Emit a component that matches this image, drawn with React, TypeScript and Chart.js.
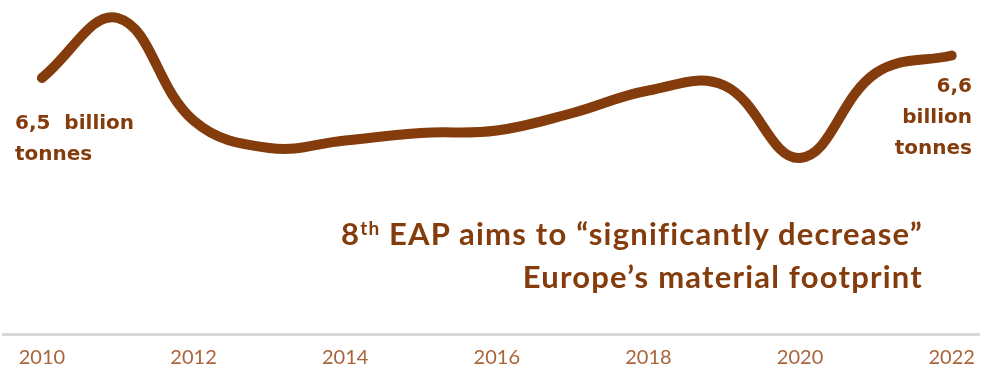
import React, { useEffect, useRef } from "react";
import { Chart, registerables } from "chart.js";

Chart.register(...registerables);

const years = [2010, 2011, 2012, 2013, 2014, 2015, 2016, 2017, 2018, 2019, 2020, 2021, 2022];
const footprint = [6.5, 6.74, 6.33, 6.22, 6.25, 6.28, 6.29, 6.36, 6.45, 6.47, 6.18, 6.52, 6.59];
const tickYears = [2010, 2012, 2014, 2016, 2018, 2020, 2022];

const BROWN = "#843C0C";
const TICK = "#A9643A";

export default function App() {
  const ref = useRef<HTMLCanvasElement | null>(null);

  useEffect(() => {
    if (!ref.current) return;
    const chart = new Chart(ref.current, {
      type: "line",
      data: {
        datasets: [
          {
            data: years.map((y, i) => ({ x: y, y: footprint[i] })),
            borderColor: BROWN,
            borderWidth: 10,
            borderCapStyle: "round",
            borderJoinStyle: "round",
            pointRadius: 0,
            tension: 0.4,
            fill: false,
          },
        ],
      },
      options: {
        animation: false,
        responsive: true,
        maintainAspectRatio: false,
        layout: { padding: { left: 3, right: 4, top: 0, bottom: 0 } },
        plugins: { legend: { display: false }, tooltip: { enabled: false } },
        scales: {
          x: {
            type: "linear",
            min: 2009.487,
            max: 2022.368,
            afterBuildTicks: (axis: any) => {
              axis.ticks = tickYears.map((v) => ({ value: v }));
            },
            grid: { display: false, drawTicks: false },
            border: { display: true, color: "#D9D9D9", width: 3 },
            ticks: {
              color: TICK,
              padding: 12,
              maxRotation: 0,
              autoSkip: false,
              font: { family: "Lato", size: 20 },
              callback: (v: any) => String(v),
            },
          },
          y: {
            display: false,
            min: 5.476,
            max: 6.812,
          },
        },
      },
    });
    return () => chart.destroy();
  }, []);

  const label: React.CSSProperties = {
    position: "absolute",
    fontFamily: "'DejaVu Sans', sans-serif",
    fontWeight: 700,
    fontSize: 20,
    color: BROWN,
    lineHeight: "31px",
    whiteSpace: "pre",
  };
  const big: React.CSSProperties = {
    position: "absolute",
    fontFamily: "Lato, sans-serif",
    fontWeight: 700,
    fontSize: 31,
    letterSpacing: "1.2px",
    color: BROWN,
    lineHeight: "44px",
    whiteSpace: "nowrap",
    textAlign: "right",
    right: 987 - 923,
  };

  return (
    <div style={{ position: "fixed", left: 0, top: 0, width: 987, height: 371, overflow: "hidden", background: "#fff" }}>
      <div style={{ position: "absolute", left: 0, top: 0, width: 987, height: 382 }}>
        <canvas ref={ref} />
      </div>
      <div style={{ ...label, left: 15, top: 107 }}>{"6,5  billion\ntonnes"}</div>
      <div style={{ ...label, right: 987 - 972, top: 70, textAlign: "right" }}>{"6,6\nbillion\ntonnes"}</div>
      <div style={{ ...big, top: 211 }}>
        8<sup style={{ fontSize: 19, verticalAlign: "top", lineHeight: "34px" }}>th</sup> EAP aims to “significantly decrease”
      </div>
      <div style={{ ...big, top: 254 }}>Europe’s material footprint</div>
    </div>
  );
}
